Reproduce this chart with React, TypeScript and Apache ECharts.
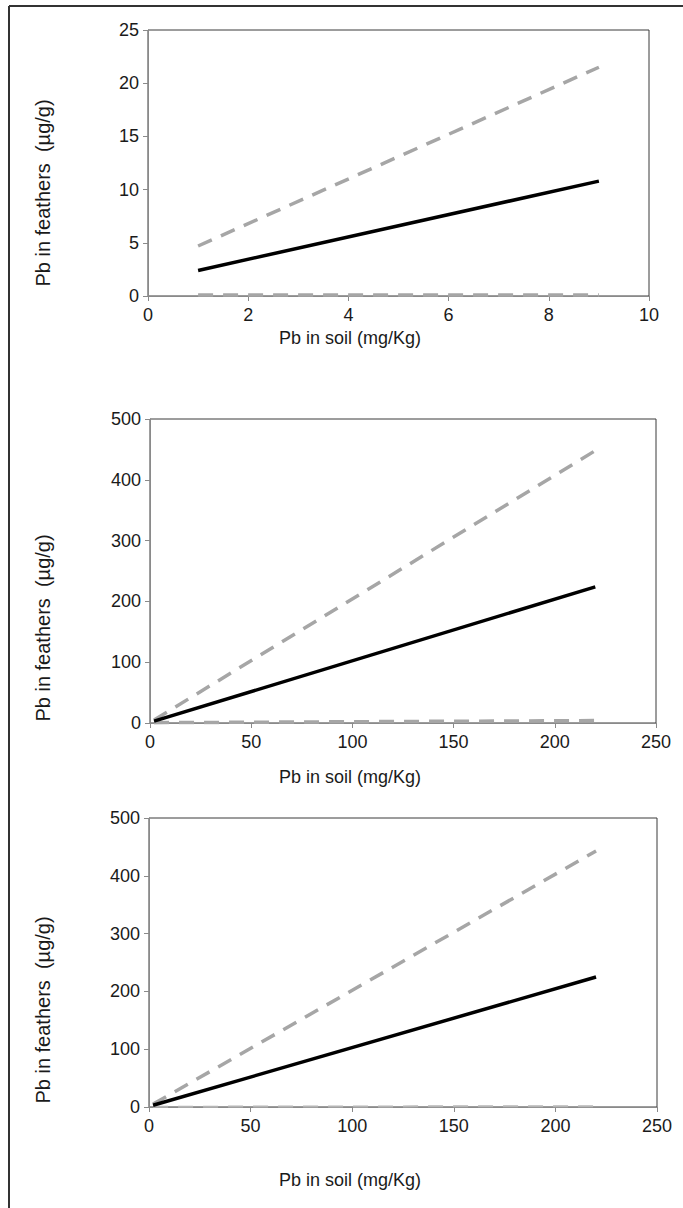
import { useEffect, useRef } from "react";
import * as echarts from "echarts";

// Panel A: low soil concentrations
const soilA = [1, 9];
const fitA = [2.4, 10.8];
const upperA = [4.7, 21.5];
const lowerA = [0.1, 0.1];

// Panel B
const soilB = [2, 220];
const fitB = [3, 224];
const upperB = [5, 448];
const lowerB = [0.5, 4];

// Panel C
const soilC = [2, 220];
const fitC = [3, 225];
const upperC = [5, 443];
const lowerC = [0.5, 1.5];

const xTitle = "Pb in soil (mg/Kg)";
const yTitle = "Pb in feathers  (µg/g)";

const FONT = "Liberation Sans, Arial, sans-serif";

const zip = (xs: number[], ys: number[]) => xs.map((x, i) => [x, ys[i]]);

export default function App() {
  const ref = useRef<HTMLDivElement>(null);

  useEffect(() => {
    if (!ref.current) return;
    const chart = echarts.init(ref.current, undefined, { renderer: "svg" });

    const grids = [
      { left: 148, top: 30, width: 501, height: 266 },
      { left: 150, top: 419, width: 506, height: 304 },
      { left: 149, top: 818, width: 508, height: 289 },
    ];

    const axisBase = {
      axisLine: { show: true, onZero: false, lineStyle: { color: "#8a8a8a", width: 1 } },
      axisTick: { show: true, inside: false, length: 5, lineStyle: { color: "#8a8a8a", width: 1 } },
      splitLine: { show: false },
      axisLabel: { color: "#1a1a1a", fontSize: 18, fontFamily: FONT },
    };

    const xRanges = [
      { min: 0, max: 10, interval: 2 },
      { min: 0, max: 250, interval: 50 },
      { min: 0, max: 250, interval: 50 },
    ];
    const yRanges = [
      { min: 0, max: 25, interval: 5 },
      { min: 0, max: 500, interval: 100 },
      { min: 0, max: 500, interval: 100 },
    ];

    const solid = (i: number, data: number[][]) => ({
      type: "line",
      xAxisIndex: i,
      yAxisIndex: i,
      data,
      symbol: "none",
      z: 3,
      lineStyle: { color: "#000000", width: 3.5 },
    });
    const dashed = (i: number, data: number[][], width = 3.5, color = "#a6a6a6") => ({
      type: "line",
      xAxisIndex: i,
      yAxisIndex: i,
      data,
      symbol: "none",
      z: 2,
      lineStyle: { color, width, type: [15, 10] },
    });

    const xTitleY = [338, 777, 1180];
    const yTitleY = [193, 628, 1010];

    chart.setOption({
      animation: false,
      backgroundColor: "#ffffff",
      grid: grids.map((g) => ({ ...g, show: true, borderColor: "#3a3a3a", borderWidth: 1, backgroundColor: "transparent" })),
      xAxis: xRanges.map((r, i) => ({
        type: "value",
        gridIndex: i,
        ...r,
        ...axisBase,
        axisLabel: { ...axisBase.axisLabel, margin: 10 },
      })),
      yAxis: yRanges.map((r, i) => ({
        type: "value",
        gridIndex: i,
        ...r,
        ...axisBase,
        axisLabel: { ...axisBase.axisLabel, margin: 9 },
      })),
      series: [
        dashed(0, zip(soilA, upperA)),
        dashed(0, zip(soilA, lowerA)),
        solid(0, zip(soilA, fitA)),
        dashed(1, zip(soilB, upperB)),
        dashed(1, zip(soilB, lowerB)),
        solid(1, zip(soilB, fitB)),
        dashed(2, zip(soilC, upperC)),
        dashed(2, zip(soilC, lowerC), 2, "#b5b5b5"),
        solid(2, zip(soilC, fitC)),
      ],
      graphic: [
        // outer frame (left and top edges)
        { type: "line", shape: { x1: 9, y1: 6, x2: 9, y2: 1208 }, style: { stroke: "#333333", lineWidth: 2 } },
        { type: "line", shape: { x1: 9, y1: 6, x2: 683, y2: 6 }, style: { stroke: "#333333", lineWidth: 2 } },
        ...xTitleY.map((y) => ({
          type: "text",
          x: 350,
          y,
          style: {
            text: xTitle,
            fill: "#1a1a1a",
            font: `18px ${FONT}`,
            textAlign: "center",
            textVerticalAlign: "middle",
          },
        })),
        ...yTitleY.map((y) => ({
          type: "text",
          x: 43,
          y,
          rotation: Math.PI / 2,
          style: {
            text: yTitle,
            fill: "#1a1a1a",
            font: `20px ${FONT}`,
            textAlign: "center",
            textVerticalAlign: "middle",
          },
        })),
      ],
    });

    return () => chart.dispose();
  }, []);

  return (
    <div
      ref={ref}
      style={{ position: "absolute", left: 0, top: 0, width: 683, height: 1208 }}
    />
  );
}
